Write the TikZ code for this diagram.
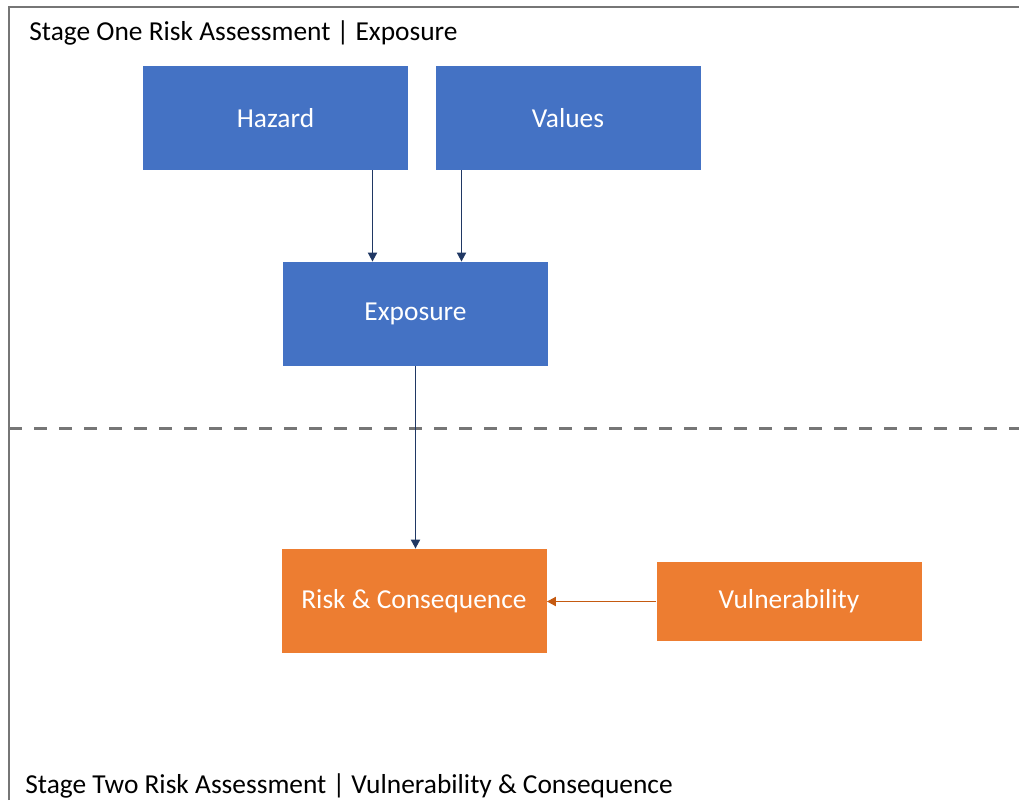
\documentclass[tikz,border=0pt]{standalone}
\usepackage{fontspec}
\setmainfont{Carlito}
\usepackage{xcolor}
\usetikzlibrary{calc,positioning,arrows.meta}
\definecolor{boxblue}{RGB}{68,114,196}
\definecolor{boxorange}{RGB}{237,125,49}
\definecolor{arrowblue}{RGB}{32,56,100}
\definecolor{arroworange}{RGB}{197,90,17}
\definecolor{framegray}{RGB}{118,118,118}

\begin{document}
\begin{tikzpicture}[x=0.5pt,y=-0.5pt,
    box/.style={minimum width=132.5pt,minimum height=52pt,inner sep=0pt,
        text=white,font=\fontsize{13.7}{16}\selectfont},
    bluebox/.style={box,fill=boxblue},
    orangebox/.style={box,fill=boxorange},
    stagelabel/.style={anchor=base west,inner sep=0pt,font=\fontsize{13.7}{16}\selectfont},
    arr/.style={draw=arrowblue,line width=0.9pt,-{Triangle[width=4.5pt,length=4.5pt]}}]
\useasboundingbox (0,0) rectangle (1019,800);
\draw[framegray,line width=1pt] (9,800) -- (9,7) -- (1019,7);
\draw[framegray,line width=1.5pt,dash pattern=on 6.5pt off 6pt] (9,428) -- (1019,428);

\node[stagelabel] (stageone) at (29,40) {Stage One Risk Assessment | Exposure};
\node[stagelabel] (stagetwo) at (25,793) {Stage Two Risk Assessment | Vulnerability \& Consequence};

\node[bluebox] (hazard) at (275.5,118) {Hazard};
\node[bluebox] (values) at (568,118) {Values};
\node[bluebox] (exposure) at (415.5,314) {Exposure};
\node[orangebox] (risk) at (414,601) {Risk \& Consequence};
\node[orangebox,minimum height=39.5pt] (vuln) at (789,601.5) {Vulnerability};

\draw[arr] ([xshift=-21.5pt]exposure.north |- hazard.south) -- ([xshift=-21.5pt]exposure.north);
\draw[arr] ([xshift=23pt]exposure.north |- values.south) -- ([xshift=23pt]exposure.north);
\draw[arr] (exposure.south) -- (exposure.south |- risk.north);
\draw[arr,draw=arroworange] (vuln.west) -- (vuln.west -| risk.east);
\end{tikzpicture}
\end{document}
